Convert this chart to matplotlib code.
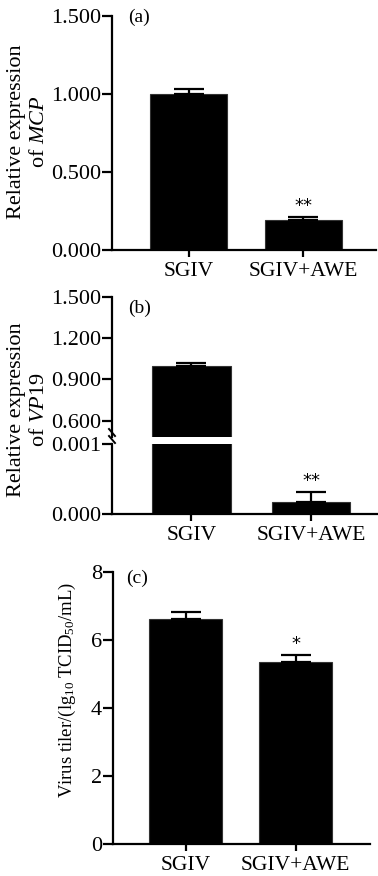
import numpy as np
import matplotlib
matplotlib.use("Agg")
import matplotlib.pyplot as plt

plt.rcParams['font.family'] = ['Liberation Serif', 'DejaVu Serif']
plt.rcParams['mathtext.fontset'] = 'custom'
plt.rcParams['mathtext.rm'] = 'Liberation Serif'
plt.rcParams['mathtext.it'] = 'Liberation Serif:italic'

groups = ['SGIV', 'SGIV+AWE']

# (a) MCP relative expression
mcp_mean = [1.000, 0.190]
mcp_err = [0.030, 0.020]
mcp_sig = ['', '**']

# (b) VP19 relative expression (broken axis)
vp19_mean = [1.000, 0.00017]
vp19_err = [0.017, 0.00014]
vp19_sig = ['', '**']

# (c) virus titer
titer_mean = [6.63, 5.34]
titer_err = [0.18, 0.22]
titer_sig = ['', '*']

W, H = 378, 876
fig = plt.figure(figsize=(W / 100, H / 100), dpi=100)


def add_ax(left, right, top, bottom):
    return fig.add_axes([left / W, 1 - bottom / H, (right - left) / W, (bottom - top) / H])


def style(ax):
    for s in ['top', 'right']:
        ax.spines[s].set_visible(False)
    for s in ['left', 'bottom']:
        ax.spines[s].set_linewidth(1.6)
    ax.tick_params(axis='y', direction='out', length=7, width=1.6, labelsize=16, pad=1)
    ax.tick_params(axis='x', direction='out', length=5, width=1.6, labelsize=15.5, pad=4)


def bars(ax, mean, err, sig, width, show_sig=True):
    x = np.arange(len(groups))
    ax.bar(x, mean, width=width, color='black', edgecolor='#333333', linewidth=0.8, zorder=2)
    ax.errorbar(x, mean, yerr=[np.zeros(len(err)), err], fmt='none', ecolor='black',
                elinewidth=1.6, capsize=11, capthick=1.6, zorder=3)
    if show_sig:
        for xi, m, e, s in zip(x, mean, err, sig):
            if s:
                ax.annotate(s, (xi, m + e), xytext=(0, 1.5), textcoords='offset points',
                            ha='center', va='bottom', fontsize=13, family='DejaVu Sans')
    return x


def two_line_label(x1, x2, yc, line1, line2):
    # two rotated lines placed separately to keep them tight
    fig.text(x1 / W, 1 - yc / H, line1, rotation=90, ha='center', va='center', fontsize=16)
    fig.text(x2 / W, 1 - yc / H, line2, rotation=90, ha='center', va='center', fontsize=16)


# ---- panel (a)
ax = add_ax(112, 376, 16, 250)
x = bars(ax, mcp_mean, mcp_err, mcp_sig, 0.675)
ax.set_xlim(-0.675, 1.64)
ax.set_ylim(0, 1.5)
ax.set_yticks([0, 0.5, 1.0, 1.5])
ax.set_yticklabels(['0.000', '0.500', '1.000', '1.500'])
ax.set_xticks(x)
ax.set_xticklabels(groups)
style(ax)
ax.text(0.06, 0.995, '(a)', transform=ax.transAxes, fontsize=14, va='center', ha='left')
two_line_label(17, 39, 132, 'Relative expression', 'of $\\mathit{MCP}$')

# ---- panel (b), broken y axis
axu = add_ax(112, 380, 297, 437)
axl = add_ax(112, 380, 444, 514)
xb = np.arange(len(groups))
bars(axu, vp19_mean, vp19_err, vp19_sig, 0.66, show_sig=False)
bars(axl, vp19_mean, vp19_err, vp19_sig, 0.66)
for a in (axu, axl):
    a.set_xlim(-0.665, 1.577)
    style(a)
axu.set_ylim(0.48, 1.5)
axu.set_yticks([0.6, 0.9, 1.2, 1.5])
axu.set_yticklabels(['0.600', '0.900', '1.200', '1.500'])
axu.spines['bottom'].set_visible(False)
axu.set_xticks([])
axl.set_ylim(0, 0.001)
axl.set_yticks([0, 0.001])
axl.set_yticklabels(['0.000', '0.001'])
axl.set_xticks(xb)
axl.set_xticklabels(groups)
# break marks on the left spine
for dy in (0.0, 7.0):
    x0 = 112 / W
    y0 = 1 - (432 + dy) / H
    fig.add_artist(plt.Line2D([x0 - 3 / W, x0 + 3 / W], [y0 + 3 / H, y0 - 4 / H],
                              color='black', lw=1.4))
axu.text(0.06, 0.92, '(b)', transform=axu.transAxes, fontsize=14, va='center', ha='left')
two_line_label(17, 39, 410, 'Relative expression', 'of $\\mathit{VP19}$')

# ---- panel (c)
ax = add_ax(113, 370, 572, 844)
x = bars(ax, titer_mean, titer_err, titer_sig, 0.66)
ax.set_xlim(-0.659, 1.677)
ax.set_ylim(0, 8)
ax.set_yticks([0, 2, 4, 6, 8])
ax.set_xticks(x)
ax.set_xticklabels(groups)
style(ax)
ax.text(0.05, 0.975, '(c)', transform=ax.transAxes, fontsize=14, va='center', ha='left')
fig.text(67 / W, 1 - 690 / H, 'Virus tiler/(lg$_{10}$\u2009TCID$_{50}$/mL)', rotation=90,
         ha='center', va='center', fontsize=13.5)

fig.savefig('out.png', dpi=100)
